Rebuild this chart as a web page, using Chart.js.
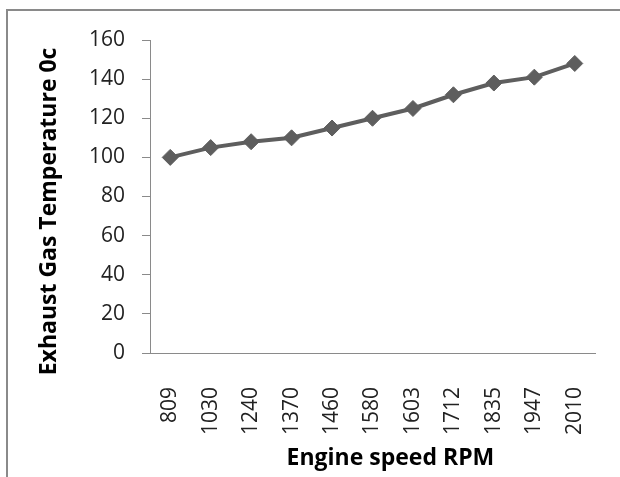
<!DOCTYPE html>
<html>
<head>
<meta charset="utf-8">
<script src="https://cdn.jsdelivr.net/npm/chart.js@4"></script>
<style>
  html, body { margin: 0; padding: 0; background: #fff; overflow: hidden; }
  #frame { position: absolute; left: 6px; top: 9px; width: 700px; height: 560px;
           border-left: 2px solid #8a8a8a; border-top: 2px solid #8a8a8a; }
  #wrap { position: absolute; left: 0; top: 0; width: 620px; height: 477px; }
</style>
</head>
<body>
<div id="frame"></div>
<div id="wrap"><canvas id="tempChart"></canvas></div>
<script>
const speeds = ['809', '1030', '1240', '1370', '1460', '1580', '1603', '1712', '1835', '1947', '2010'];
const temperatures = [100, 105, 108, 110, 115, 120, 125, 132, 138, 141, 148];
const yTicks = [0, 20, 40, 60, 80, 100, 120, 140, 160];

const ctx = document.getElementById('tempChart').getContext('2d');
const tempChart = new Chart(ctx, {
    type: 'line',
    data: {
        labels: speeds,
        datasets: [{
            label: 'Exhaust Gas Temperature',
            data: temperatures,
            borderColor: '#5e5e5e',
            backgroundColor: '#5e5e5e',
            borderWidth: 4,
            pointStyle: 'rectRot',
            pointRadius: 8,
            pointBorderWidth: 1,
            tension: 0
        }]
    },
    options: {
        responsive: true,
        maintainAspectRatio: false,
        animation: false,
        layout: {
            padding: { left: 32, top: 40, right: 25, bottom: 1 }
        },
        plugins: {
            legend: { display: false },
            tooltip: { enabled: false }
        },
        scales: {
            y: {
                min: 0,
                max: 160,
                afterBuildTicks: function(scale) {
                    scale.ticks = yTicks.map(v => ({ value: v }));
                },
                afterFit: function(scale) { scale.width = 118; },
                grid: {
                    drawOnChartArea: false,
                    drawTicks: true,
                    tickLength: 8,
                    color: '#8a8a8a'
                },
                border: { display: true, color: '#8a8a8a', width: 1 },
                ticks: {
                    color: '#222',
                    padding: 17,
                    font: { family: 'Open Sans', size: 21 }
                },
                title: {
                    display: true,
                    // trailing spaces nudge the title down like the original
                    text: 'Exhaust Gas Temperature 0c     ',
                    color: '#000',
                    padding: { top: 4, bottom: 0 },
                    font: { family: 'Open Sans', size: 23, weight: 'bold' }
                }
            },
            x: {
                offset: true,
                afterFit: function(scale) {
                    scale.height = 123;
                    scale.paddingLeft = 0;
                    scale.paddingRight = 0;
                },
                grid: { display: false, offset: true },
                border: { display: true, color: '#8a8a8a', width: 1 },
                ticks: {
                    color: '#222',
                    padding: 26,
                    minRotation: 90,
                    maxRotation: 90,
                    autoSkip: false,
                    font: { family: 'Open Sans', size: 21 }
                },
                title: {
                    display: true,
                    text: '      Engine speed RPM',
                    color: '#000',
                    padding: { top: 0, bottom: 4 },
                    font: { family: 'Open Sans', size: 23, weight: 'bold' }
                }
            }
        }
    }
});
</script>
</body>
</html>
